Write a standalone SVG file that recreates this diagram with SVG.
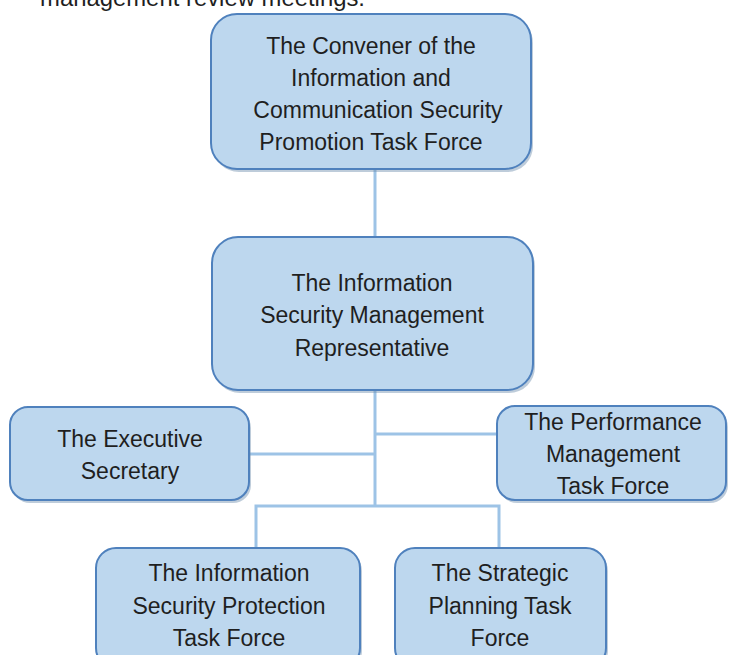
<svg xmlns="http://www.w3.org/2000/svg" width="729" height="655" viewBox="0 0 729 655">
  <style>
    .box { fill: #bdd7ee; stroke: #4f81bd; stroke-width: 2; }
    .shadow { fill: #6f8fae; opacity: 0.45; }
    .lbl { font-family: "Liberation Sans", Arial, sans-serif; font-size: 23px; fill: #1f1f1f; text-anchor: middle; }
    .cap { font-family: "Liberation Sans", Arial, sans-serif; font-size: 23px; fill: #1f1f1f; }
    .link { fill: none; stroke: #9dc3e6; stroke-width: 3; }
  </style>
  <rect width="729" height="655" fill="#ffffff"/>

  <!-- trailing line of the preceding paragraph -->
  <text class="cap" x="40" y="6" textLength="325" lengthAdjust="spacingAndGlyphs">management review meetings.</text>

  <!-- connectors -->
  <g id="connectors">
    <path class="link" d="M375 170 V237"/>
    <path class="link" d="M375 391 V506"/>
    <path class="link" d="M250 454 H375"/>
    <path class="link" d="M375 434 H497"/>
    <path class="link" d="M256 548 V506 H499 V548"/>
  </g>

  <g id="convener">
    <rect class="shadow" x="213" y="17" width="320" height="155" rx="26"/>
    <rect class="box" x="211" y="14" width="320" height="155" rx="26"/>
    <text class="lbl" x="371" y="54">The Convener of the</text>
    <text class="lbl" x="371" y="86">Information and</text>
    <text class="lbl" x="378" y="118">Communication Security</text>
    <text class="lbl" x="371" y="150">Promotion Task Force</text>
  </g>

  <g id="representative">
    <rect class="shadow" x="214" y="240" width="321" height="153" rx="26"/>
    <rect class="box" x="212" y="237" width="321" height="153" rx="26"/>
    <text class="lbl" x="372" y="291">The Information</text>
    <text class="lbl" x="372" y="323">Security Management</text>
    <text class="lbl" x="372" y="356">Representative</text>
  </g>

  <g id="executive-secretary">
    <rect class="shadow" x="12" y="410" width="239" height="93" rx="18"/>
    <rect class="box" x="10" y="407" width="239" height="93" rx="18"/>
    <text class="lbl" x="130" y="447">The Executive</text>
    <text class="lbl" x="130" y="479">Secretary</text>
  </g>

  <g id="performance">
    <rect class="shadow" x="499" y="409" width="229" height="94" rx="18"/>
    <rect class="box" x="497" y="406" width="229" height="94" rx="18"/>
    <text class="lbl" x="613" y="430">The Performance</text>
    <text class="lbl" x="613" y="462">Management</text>
    <text class="lbl" x="613" y="494">Task Force</text>
  </g>

  <g id="protection">
    <rect class="shadow" x="98" y="551" width="264" height="120" rx="20"/>
    <rect class="box" x="96" y="548" width="264" height="120" rx="20"/>
    <text class="lbl" x="229" y="581">The Information</text>
    <text class="lbl" x="229" y="614">Security Protection</text>
    <text class="lbl" x="229" y="646">Task Force</text>
  </g>

  <g id="strategic">
    <rect class="shadow" x="397" y="551" width="211" height="120" rx="20"/>
    <rect class="box" x="395" y="548" width="211" height="120" rx="20"/>
    <text class="lbl" x="500" y="581">The Strategic</text>
    <text class="lbl" x="500" y="614">Planning Task</text>
    <text class="lbl" x="500" y="646">Force</text>
  </g>
</svg>
